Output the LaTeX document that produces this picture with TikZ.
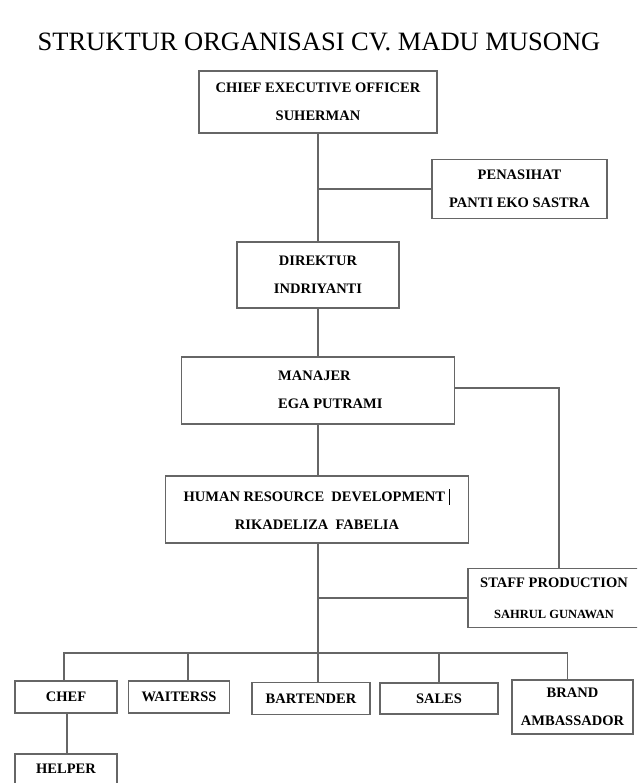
\documentclass[tikz,border=0pt]{standalone}
\usepackage{fontspec}
\setmainfont{Liberation Serif}
\usetikzlibrary{positioning}

\tikzset{
    jabatan/.style={draw=black!60, line width=1.3pt, align=center, inner sep=0pt,
        font=\bfseries\fontsize{14.5}{28}\selectfont},
    garis/.style={draw=black!60, line width=1.3pt}
}

\begin{document}
\begin{tikzpicture}[x=1pt, y=-1pt]
    \useasboundingbox (0,0) rectangle (637,783);
    \clip (0,0) rectangle (637,783);
    \node (judul) at (319,42) {\fontsize{26.5}{26.5}\selectfont STRUKTUR ORGANISASI CV. MADU MUSONG};
    \node[jabatan, minimum width=238, minimum height=62] (ceo) at (318,102)
        {CHIEF EXECUTIVE OFFICER\\SUHERMAN};
    \node[jabatan, minimum width=175, minimum height=59] (penasihat) at (519.5,189)
        {PENASIHAT\\PANTI EKO SASTRA};
    \node[jabatan, minimum width=162, minimum height=66] (direktur) at (318,275)
        {DIREKTUR\\INDRIYANTI};
    \node[jabatan, minimum width=273, minimum height=67] (manajer) at (318,390.5) {};
    \node[align=left, anchor=west, inner sep=0pt, font=\bfseries\fontsize{14.5}{28}\selectfont] (manajernama)
        at (278,389.5) {MANAJER\\EGA PUTRAMI};
    \node[jabatan, minimum width=303, minimum height=67] (hrd) at (317,509.5)
        {HUMAN RESOURCE\ \ DEVELOPMENT\ \rule[-3pt]{1.6pt}{16pt}\\RIKADELIZA\ \ FABELIA};
    \node[jabatan, minimum width=172, minimum height=59, font=\bfseries\fontsize{14.5}{31}\selectfont]
        (staff) at (554,598)
        {STAFF PRODUCTION\\{\fontsize{12.5}{12.5}\selectfont SAHRUL GUNAWAN}};
    \node[jabatan, minimum width=102, minimum height=32] (chef) at (66,697) {CHEF};
    \node[jabatan, minimum width=101, minimum height=32] (waiterss) at (179,697) {WAITERSS};
    \node[jabatan, minimum width=118, minimum height=32] (bartender) at (311,698.5) {BARTENDER};
    \node[jabatan, minimum width=118, minimum height=31] (sales) at (439,698.5) {SALES};
    \node[jabatan, minimum width=121, minimum height=54] (brand) at (572.5,707)
        {BRAND\\AMBASSADOR};
    \node[jabatan, minimum width=102, minimum height=44, text depth=14pt] (helper) at (66,776) {HELPER};
    \coordinate (bar) at (318,653);
    \draw[garis] (ceo.south) -- (direktur.north);
    \draw[garis] (ceo.south |- penasihat.west) -- (penasihat.west);
    \draw[garis] (direktur.south) -- (manajer.north);
    \draw[garis] (manajer.south) -- (manajer.south |- hrd.north);
    \draw[garis] (manajer.east |- 0,388) -| ([xshift=5pt]staff.north);
    \draw[garis] (hrd.south -| bar) -- (bar |- bartender.north);
    \draw[garis] (bar |- staff.west) -- (staff.west);
    \draw[garis] ([xshift=-2pt]chef.north) |- (bar) -| ([xshift=-5pt]brand.north);
    \draw[garis] ([xshift=9pt]waiterss.north) -- ([xshift=9pt]waiterss.north |- bar);
    \draw[garis] (sales.north) -- (sales.north |- bar);
    \draw[garis] ([xshift=1pt]chef.south) -- ([xshift=1pt]chef.south |- helper.north);
\end{tikzpicture}
\end{document}
